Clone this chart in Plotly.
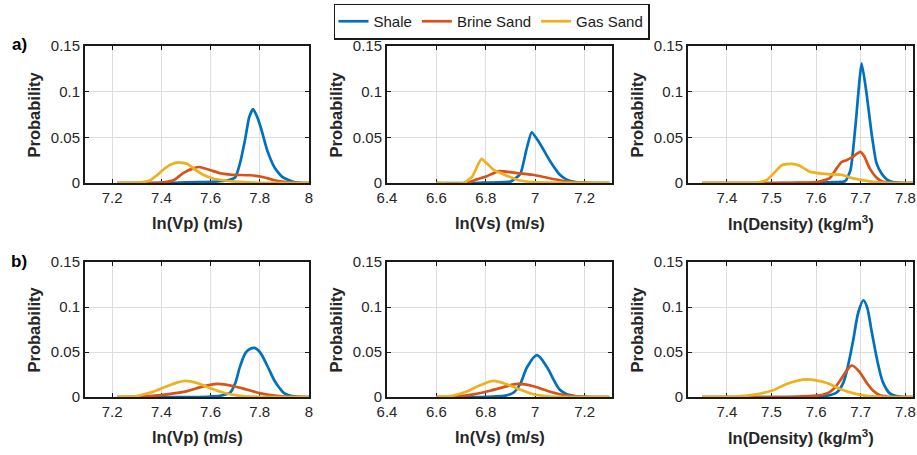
import plotly.graph_objects as go

W, H = 917, 455

# ---- legend / series ----
series_names = ["Shale", "Brine Sand", "Gas Sand"]
series_colors = ["#0072BD", "#D95319", "#EDB120"]

# ---- axes ----
x_titles = ["ln(Vp) (m/s)", "ln(Vs) (m/s)", "ln(Density) (kg/m<sup>3</sup>)"]
x_ranges = [[7.09, 8.0], [6.4, 7.311], [7.313, 7.817]]
x_tickvals = [[7.2, 7.4, 7.6, 7.8, 8.0], [6.4, 6.6, 6.8, 7.0, 7.2], [7.4, 7.5, 7.6, 7.7, 7.8]]
x_ticktext = [["7.2", "7.4", "7.6", "7.8", "8"], ["6.4", "6.6", "6.8", "7", "7.2"],
              ["7.4", "7.5", "7.6", "7.7", "7.8"]]
y_tickvals = [0, 0.05, 0.1, 0.15]
y_ticktext = ["0", "0.05", "0.1", "0.15"]
row_labels = ["a)", "b)"]

# ---- row a) : ln(Vp) ----
a_vp_shale_x = [7.22, 7.45, 7.55, 7.62, 7.67, 7.70, 7.72, 7.74, 7.757, 7.773, 7.79, 7.805, 7.83, 7.86, 7.89, 7.93, 7.96, 8.0]
a_vp_shale_y = [0, 0.0003, 0.001, 0.0015, 0.003, 0.006, 0.022, 0.047, 0.072, 0.081, 0.072, 0.06, 0.036, 0.017, 0.007, 0.002, 0.0003, 0]
a_vp_brine_x = [7.22, 7.35, 7.40, 7.45, 7.49, 7.53, 7.555, 7.60, 7.64, 7.69, 7.76, 7.82, 7.86, 7.91, 7.95, 8.0]
a_vp_brine_y = [0, 0, 0.0005, 0.003, 0.011, 0.016, 0.0175, 0.014, 0.0107, 0.009, 0.0085, 0.006, 0.003, 0.001, 0.0002, 0]
a_vp_gas_x = [7.22, 7.31, 7.355, 7.38, 7.41, 7.437, 7.47, 7.505, 7.54, 7.57, 7.61, 7.65, 7.70, 7.75, 7.80, 8.0]
a_vp_gas_y = [0, 0.0005, 0.003, 0.008, 0.015, 0.02, 0.0225, 0.021, 0.014, 0.009, 0.005, 0.003, 0.0015, 0.0008, 0.0003, 0]

# ---- row a) : ln(Vs) ----
a_vs_shale_x = [6.6, 6.75, 6.80, 6.90, 6.94, 6.964, 6.986, 7.017, 7.058, 7.10, 7.126, 7.165, 7.20, 7.3]
a_vs_shale_y = [0, 0, 0.0005, 0.0015, 0.01, 0.036, 0.0555, 0.044, 0.025, 0.009, 0.004, 0.001, 0.0003, 0]
a_vs_brine_x = [6.6, 6.723, 6.763, 6.80, 6.854, 6.92, 6.99, 7.045, 7.10, 7.15, 7.20, 7.3]
a_vs_brine_y = [0, 0, 0.004, 0.007, 0.013, 0.011, 0.009, 0.006, 0.003, 0.001, 0.0003, 0]
a_vs_gas_x = [6.6, 6.71, 6.745, 6.772, 6.783, 6.806, 6.833, 6.86, 6.893, 6.934, 6.99, 7.05, 7.3]
a_vs_gas_y = [0, 0, 0.007, 0.022, 0.0265, 0.021, 0.014, 0.011, 0.007, 0.003, 0.001, 0.0005, 0]

# ---- row a) : ln(Density) ----
a_rho_shale_x = [7.345, 7.60, 7.639, 7.665, 7.677, 7.688, 7.702, 7.713, 7.724, 7.735, 7.747, 7.758, 7.772, 7.80, 7.817]
a_rho_shale_y = [0, 0, 0.001, 0.002, 0.014, 0.062, 0.131, 0.098, 0.055, 0.022, 0.01, 0.004, 0.001, 0, 0]
a_rho_brine_x = [7.345, 7.50, 7.55, 7.60, 7.63, 7.646, 7.657, 7.668, 7.68, 7.699, 7.708, 7.72, 7.735, 7.747, 7.77, 7.817]
a_rho_brine_y = [0, 0, 0.0003, 0.001, 0.005, 0.016, 0.023, 0.025, 0.028, 0.034, 0.029, 0.016, 0.006, 0.002, 0, 0]
a_rho_gas_x = [7.345, 7.46, 7.474, 7.489, 7.504, 7.523, 7.545, 7.563, 7.583, 7.60, 7.63, 7.657, 7.683, 7.705, 7.727, 7.76, 7.817]
a_rho_gas_y = [0, 0, 0.001, 0.003, 0.01, 0.0195, 0.021, 0.019, 0.013, 0.011, 0.0095, 0.009, 0.005, 0.003, 0.0012, 0.0003, 0]

# ---- row b) : ln(Vp) ----
b_vp_shale_x = [7.22, 7.55, 7.60, 7.65, 7.68, 7.70, 7.72, 7.745, 7.777, 7.80, 7.83, 7.86, 7.88, 7.90, 7.93, 7.96, 8.0]
b_vp_shale_y = [0, 0, 0.0005, 0.002, 0.005, 0.015, 0.034, 0.05, 0.0545, 0.05, 0.035, 0.018, 0.01, 0.004, 0.001, 0.0002, 0]
b_vp_brine_x = [7.22, 7.29, 7.35, 7.423, 7.505, 7.56, 7.627, 7.695, 7.75, 7.804, 7.86, 7.90, 7.95, 8.0]
b_vp_brine_y = [0, 0.0002, 0.001, 0.003, 0.0065, 0.011, 0.0145, 0.012, 0.008, 0.004, 0.0015, 0.0005, 0.0001, 0]
b_vp_gas_x = [7.22, 7.30, 7.314, 7.369, 7.423, 7.464, 7.498, 7.546, 7.587, 7.627, 7.68, 7.73, 7.80, 8.0]
b_vp_gas_y = [0, 0.001, 0.002, 0.006, 0.012, 0.016, 0.018, 0.0155, 0.011, 0.007, 0.003, 0.001, 0.0002, 0]

# ---- row b) : ln(Vs) ----
b_vs_shale_x = [6.6, 6.78, 6.83, 6.88, 6.913, 6.94, 6.967, 7.007, 7.048, 7.075, 7.10, 7.128, 7.16, 7.20, 7.3]
b_vs_shale_y = [0, 0, 0.0005, 0.0015, 0.005, 0.0148, 0.033, 0.0465, 0.033, 0.019, 0.008, 0.003, 0.001, 0.0002, 0]
b_vs_brine_x = [6.6, 6.65, 6.68, 6.75, 6.817, 6.872, 6.93, 6.993, 7.048, 7.10, 7.15, 7.20, 7.3]
b_vs_brine_y = [0, 0, 0.0005, 0.003, 0.007, 0.011, 0.0145, 0.012, 0.007, 0.003, 0.001, 0.0002, 0]
b_vs_gas_x = [6.6, 6.668, 6.723, 6.777, 6.831, 6.886, 6.94, 6.993, 7.05, 7.10, 7.3]
b_vs_gas_y = [0, 0.0015, 0.006, 0.013, 0.018, 0.014, 0.008, 0.003, 0.0008, 0.0002, 0]

# ---- row b) : ln(Density) ----
b_rho_shale_x = [7.345, 7.58, 7.60, 7.62, 7.646, 7.661, 7.672, 7.683, 7.695, 7.706, 7.714, 7.724, 7.739, 7.75, 7.765, 7.78, 7.80, 7.817]
b_rho_shale_y = [0, 0, 0.0003, 0.001, 0.005, 0.016, 0.036, 0.063, 0.095, 0.1075, 0.1, 0.074, 0.036, 0.016, 0.004, 0.001, 0, 0]
b_rho_brine_x = [7.345, 7.50, 7.55, 7.60, 7.624, 7.639, 7.654, 7.668, 7.68, 7.697, 7.713, 7.728, 7.743, 7.76, 7.78, 7.817]
b_rho_brine_y = [0, 0, 0.0003, 0.0015, 0.004, 0.009, 0.0185, 0.029, 0.035, 0.028, 0.016, 0.007, 0.002, 0.0005, 0, 0]
b_rho_gas_x = [7.345, 7.42, 7.466, 7.504, 7.534, 7.579, 7.624, 7.654, 7.684, 7.713, 7.75, 7.817]
b_rho_gas_y = [0, 0.0005, 0.003, 0.0075, 0.0145, 0.0195, 0.0155, 0.009, 0.004, 0.0012, 0.0003, 0]

panels = [
    [[(a_vp_shale_x, a_vp_shale_y), (a_vp_brine_x, a_vp_brine_y), (a_vp_gas_x, a_vp_gas_y)],
     [(a_vs_shale_x, a_vs_shale_y), (a_vs_brine_x, a_vs_brine_y), (a_vs_gas_x, a_vs_gas_y)],
     [(a_rho_shale_x, a_rho_shale_y), (a_rho_brine_x, a_rho_brine_y), (a_rho_gas_x, a_rho_gas_y)]],
    [[(b_vp_shale_x, b_vp_shale_y), (b_vp_brine_x, b_vp_brine_y), (b_vp_gas_x, b_vp_gas_y)],
     [(b_vs_shale_x, b_vs_shale_y), (b_vs_brine_x, b_vs_brine_y), (b_vs_gas_x, b_vs_gas_y)],
     [(b_rho_shale_x, b_rho_shale_y), (b_rho_brine_x, b_rho_brine_y), (b_rho_gas_x, b_rho_gas_y)]],
]

# pixel boxes of the axes (left, right) and (top, bottom)
col_px = [(85, 309), (387, 612), (688, 913)]
row_px = [(46, 183), (262, 397)]


def px_x(p):
    return p / W


def px_y(p):
    return 1 - p / H


FONT = "Liberation Sans, Arial, Helvetica, sans-serif"
TICK_COLOR = "#262626"

fig = go.Figure()
layout = dict(
    template="none",
    width=W, height=H, autosize=False,
    margin=dict(l=0, r=0, t=0, b=0, pad=0, autoexpand=False),
    paper_bgcolor="white", plot_bgcolor="white",
    font=dict(family=FONT, size=15, color=TICK_COLOR),
    showlegend=True,
    legend=dict(
        orientation="h", x=px_x(491.5), y=px_y(21.5), xanchor="center", yanchor="middle",
        bordercolor="#1a1a1a", borderwidth=1.5, bgcolor="white",
        font=dict(family=FONT, size=15, color="#1a1a1a"),
        itemwidth=30, tracegroupgap=0,
    ),
    annotations=[],
)

idx = 0
for r in range(2):
    for c in range(3):
        idx += 1
        xa = "x" if idx == 1 else f"x{idx}"
        ya = "y" if idx == 1 else f"y{idx}"
        for s in range(3):
            xs, ys = panels[r][c][s]
            fig.add_trace(go.Scatter(
                x=xs, y=ys, mode="lines", name=series_names[s],
                line=dict(color=series_colors[s], width=2.7,
                          shape="spline", smoothing=0.5 if r == 0 else 0.9),
                xaxis=xa, yaxis=ya, showlegend=(idx == 1), legendgroup=series_names[s],
                hoverinfo="skip",
            ))
        l, rr = col_px[c]
        t, b = row_px[r]
        common = dict(
            showline=True, linecolor="#1a1a1a", linewidth=2, mirror="allticks",
            ticks="inside", ticklen=4, tickcolor="#1a1a1a", tickwidth=1,
            showgrid=True, gridcolor="#dedede", gridwidth=1.2,
            zeroline=False, layer="below traces", automargin=False,
            tickfont=dict(family=FONT, size=15, color=TICK_COLOR),
            fixedrange=True,
        )
        layout["xaxis" if idx == 1 else f"xaxis{idx}"] = dict(
            common, domain=[px_x(l), px_x(rr)], range=x_ranges[c], anchor=ya,
            tickmode="array", tickvals=x_tickvals[c], ticktext=x_ticktext[c],
        )
        layout["yaxis" if idx == 1 else f"yaxis{idx}"] = dict(
            common, domain=[px_y(b), px_y(t)], range=[0, 0.15], anchor=xa,
            tickmode="array", tickvals=y_tickvals, ticktext=y_ticktext,
        )
        # axis titles
        layout["annotations"].append(dict(
            text=f"<b>{x_titles[c]}</b>", xref="paper", yref="paper",
            x=px_x((l + rr) / 2), y=px_y(b + 40), xanchor="center", yanchor="middle",
            showarrow=False, font=dict(family=FONT, size=16.5, color=TICK_COLOR),
        ))
        layout["annotations"].append(dict(
            text="<b>Probability</b>", xref="paper", yref="paper", textangle=-90,
            x=px_x(l - 52), y=px_y((t + b) / 2), xanchor="center", yanchor="middle",
            showarrow=False, font=dict(family=FONT, size=16.5, color=TICK_COLOR),
        ))
    layout["annotations"].append(dict(
        text=f"<b>{row_labels[r]}</b>", xref="paper", yref="paper",
        x=px_x(19), y=px_y(row_px[r][0] - 1), xanchor="center", yanchor="middle",
        showarrow=False, font=dict(family=FONT, size=17, color="#000000"),
    ))

fig.update_layout(**layout)
fig.write_html("out.html")
